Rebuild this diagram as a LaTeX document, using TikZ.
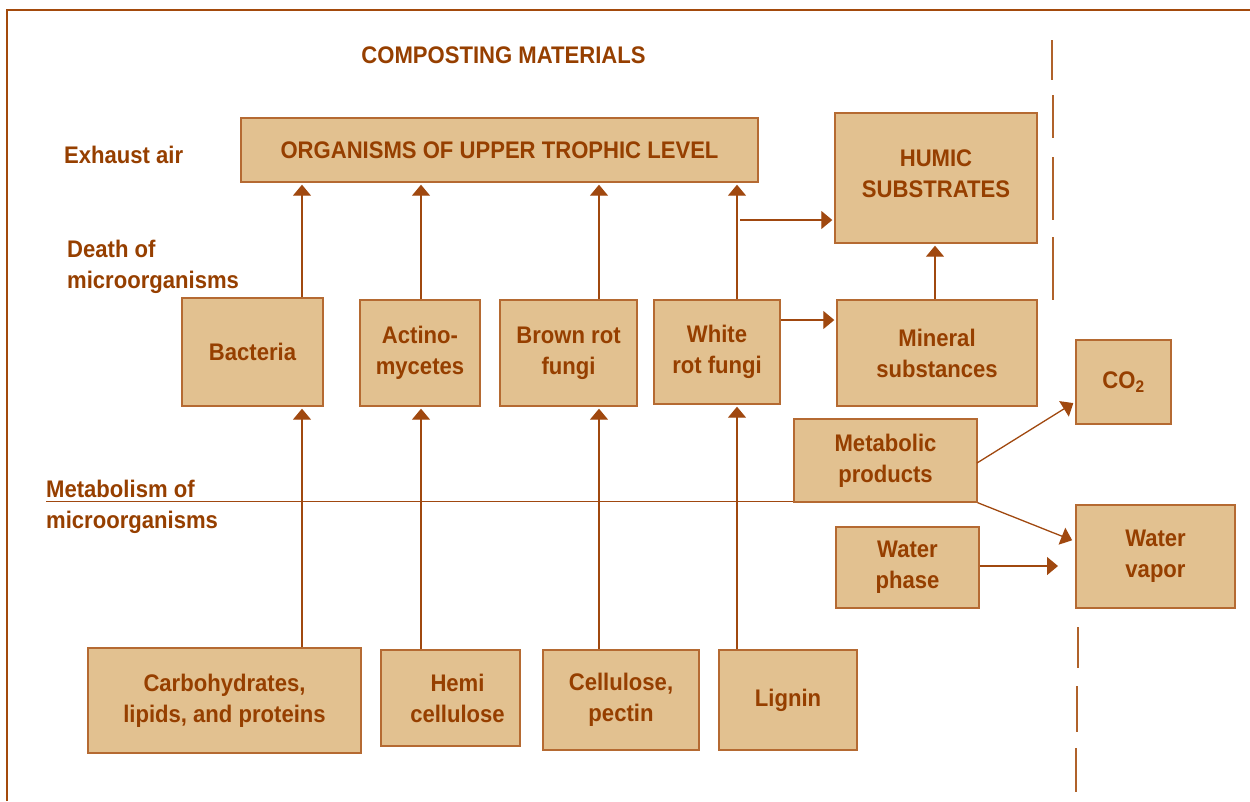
\documentclass[tikz,border=0pt]{standalone}
\usepackage{fontspec}
\setmainfont[FakeStretch=0.92]{Liberation Sans}
\usetikzlibrary{arrows.meta}
\definecolor{txt}{HTML}{963F00}
\definecolor{boxfill}{HTML}{E2C190}
\definecolor{boxline}{HTML}{B56A32}
\definecolor{arrc}{HTML}{A0480F}
\definecolor{framec}{HTML}{A34A0C}
\definecolor{dashc}{HTML}{B0622A}
\tikzset{
  lbl/.style={text=txt, font=\fontsize{24}{31}\selectfont\bfseries, inner sep=0pt},
  box/.style={lbl, draw=boxline, fill=boxfill, line width=1.4pt, align=center},
  arr/.style={draw=arrc, line width=1.3pt, -{Triangle[length=11pt,width=18pt]}, shorten >=2pt},
  plain/.style={draw=arrc, line width=1.3pt},
  sep/.style={draw=dashc, line width=1.6pt},
}
\begin{document}
\begin{tikzpicture}[x=1pt,y=-1pt]
\useasboundingbox (0,0) rectangle (1250,801);
% outer frame
\draw[framec, line width=2pt] (7,801) -- (7,10) -- (1250,10);

% headings and side labels
\node[lbl, anchor=center] (title) at (503.5,55) {COMPOSTING MATERIALS};
\node[lbl, anchor=base west] (exhaust) at (64,163) {Exhaust air};
\node[lbl, anchor=base west, align=left] (death) at (67,288) {Death of\\microorganisms};
\node[lbl, anchor=base west, align=left] (metabl) at (46,528) {Metabolism of\\microorganisms};

% boxes
\node[box, minimum width=517pt, minimum height=64pt] (top) at (499.5,150) {ORGANISMS OF UPPER TROPHIC LEVEL};
\node[box, minimum width=202pt, minimum height=130pt, text depth=9pt] (humic) at (936,178) {HUMIC\\SUBSTRATES};
\node[box, minimum width=141pt, minimum height=108pt] (bact) at (252.5,352) {Bacteria};
\node[box, minimum width=120pt, minimum height=106pt] (actino) at (420,353) {Actino-\\mycetes};
\node[box, minimum width=137pt, minimum height=106pt] (brown) at (568.5,353) {Brown rot\\fungi};
\node[box, minimum width=126pt, minimum height=104pt] (white) at (717,352) {White\\rot fungi};
\node[box, minimum width=200pt, minimum height=106pt] (mineral) at (937,353) {Mineral\\substances};
\node[box, minimum width=95pt, minimum height=84pt] (co2) at (1123.5,382) {CO\textsubscript{2}};
\node[box, minimum width=183pt, minimum height=83pt] (metab) at (885.5,460.5) {Metabolic\\products};
\node[box, minimum width=143pt, minimum height=81pt] (wphase) at (907.5,567.5) {Water\\phase};
\node[box, minimum width=159pt, minimum height=103pt] (wvapor) at (1155.5,556.5) {Water\\vapor};
\node[box, minimum width=273pt, minimum height=105pt] (carb) at (224.5,700.5) {Carbohydrates,\\lipids, and proteins};
\node[box, minimum width=139pt, minimum height=96pt] (hemi) at (450.5,698) {\hspace{14pt}Hemi\\\hspace{14pt}cellulose};
\node[box, minimum width=156pt, minimum height=100pt] (cell) at (621,700) {Cellulose,\\pectin};
\node[box, minimum width=138pt, minimum height=100pt] (lignin) at (788,700) {Lignin};

% column positions of the vertical arrows
\coordinate (c1) at (302,0);
\coordinate (c2) at (421,0);
\coordinate (c3) at (599,0);
\coordinate (c4) at (737,0);

% metabolism baseline (drawn first so the arrows sit on top)
\coordinate (mstart) at (46,501.5);
\draw[plain] (mstart) -- (mstart -| metab.west);

% substrates to microorganisms
\draw[arr] (carb.north -| c1) -- (bact.south -| c1);
\draw[arr] (hemi.north -| c2) -- (actino.south -| c2);
\draw[arr] (cell.north -| c3) -- (brown.south -| c3);
\draw[arr] (lignin.north -| c4) -- (white.south -| c4);

% microorganisms to upper trophic level
\draw[arr] (bact.north -| c1) -- (top.south -| c1);
\draw[arr] (actino.north -| c2) -- (top.south -| c2);
\draw[arr] (brown.north -| c3) -- (top.south -| c3);
\draw[arr] (white.north -| c4) -- (top.south -| c4);

% branches towards humic substrates and mineral substances
\coordinate (hbr) at (740,220);
\draw[arr] (hbr) -- (hbr -| humic.west);
\coordinate (mbr) at (0,320);
\draw[arr] (white.east |- mbr) -- (mineral.west |- mbr);
\coordinate (hc) at (935,0);
\draw[arr] (mineral.north -| hc) -- (humic.south -| hc);

% metabolic products to gases
\coordinate (mo) at (977,463);
\coordinate (ci) at (1075,402);
\draw[arr] (mo) -- (ci);
\coordinate (vi) at (1074,541);
\draw[arr] (metab.south east) -- (vi);
\coordinate (wp) at (0,566);
\coordinate (we) at (1058,566);
\draw[arr, shorten >=0pt] (wphase.east |- wp) -- (we);

% separator
\draw[sep] (1052,40) -- (1052,80);
\draw[sep] (1053,95) -- (1053,138);
\draw[sep] (1053,157) -- (1053,220);
\draw[sep] (1053,237) -- (1053,300);
\draw[sep] (1078,627) -- (1078,668);
\draw[sep] (1077,686) -- (1077,732);
\draw[sep] (1076,748) -- (1076,792);
\end{tikzpicture}
\end{document}
